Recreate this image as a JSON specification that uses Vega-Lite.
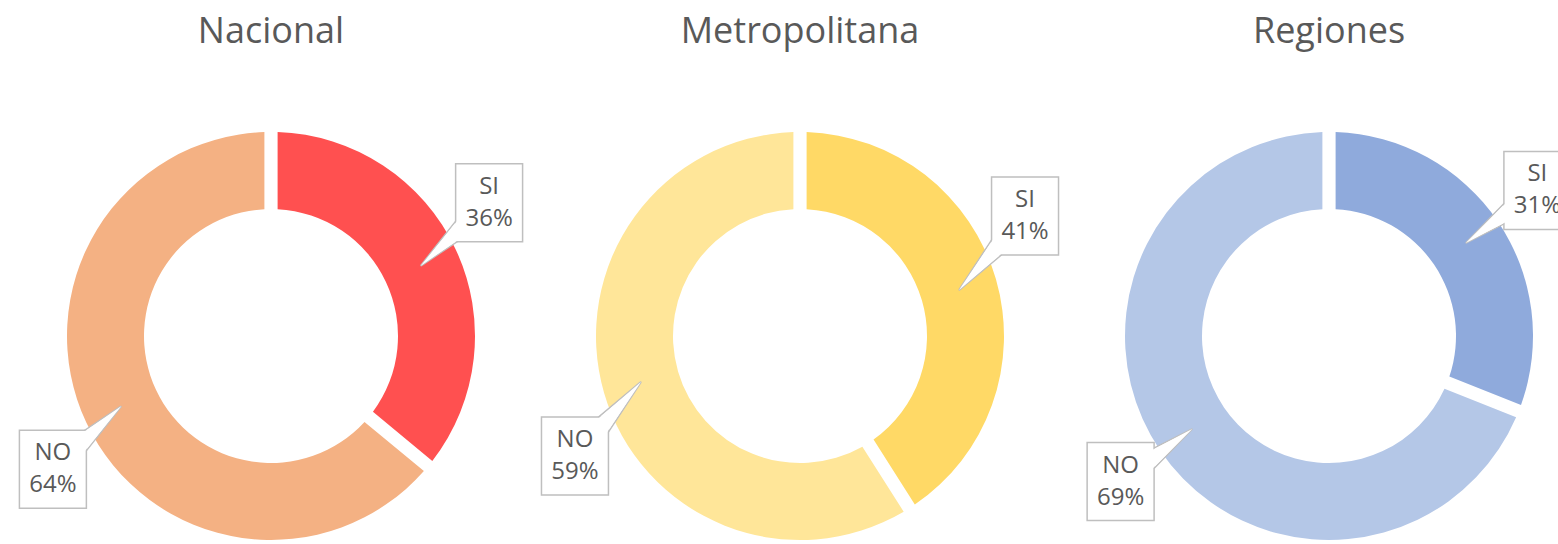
{
  "$schema": "https://vega.github.io/schema/vega-lite/v6.json",
  "width": 1558,
  "height": 544,
  "padding": 0,
  "autosize": {"type": "none"},
  "background": "white",
  "config": {"view": {"stroke": null}},
  "data": {
    "values": [
      {"region": "Nacional", "category": "SI", "value": 36},
      {"region": "Nacional", "category": "NO", "value": 64},
      {"region": "Metropolitana", "category": "SI", "value": 41},
      {"region": "Metropolitana", "category": "NO", "value": 59},
      {"region": "Regiones", "category": "SI", "value": 31},
      {"region": "Regiones", "category": "NO", "value": 69}
    ]
  },
  "transform": [
    {"stack": "value", "groupby": ["region"], "sort": [{"field": "category", "order": "descending"}], "as": ["v0", "v1"]},
    {"calculate": "indexof(['Nacional','Metropolitana','Regiones'], datum.region)", "as": "cx"},
    {"calculate": "0", "as": "cy"},
    {"calculate": "datum.region + ' ' + datum.category", "as": "key"},
    {"calculate": "PI * (datum.v0 + datum.v1) / 100", "as": "ang"},
    {"calculate": "sin(datum.ang)", "as": "s"},
    {"calculate": "cos(datum.ang)", "as": "c"},
    {"calculate": "datum.cx + 0.3138 * datum.s", "as": "tx"},
    {"calculate": "0.3138 * datum.c", "as": "ty"},
    {"calculate": "datum.cx + (datum.s > 0 ? 1 : -1) * (105 + 125 * abs(datum.s)) / 529", "as": "bx"},
    {"calculate": "(datum.c > 0 ? 1 : -1) * (95 + 90 * abs(datum.c)) / 529", "as": "by"},
    {"calculate": "datum.bx - 0.0633", "as": "bx0"},
    {"calculate": "datum.bx + 0.0633", "as": "bx1"},
    {"calculate": "datum.by - 0.0737", "as": "by0"},
    {"calculate": "datum.by + 0.0737", "as": "by1"},
    {"calculate": "[datum.category, datum.value + '%']", "as": "label"}
  ],
  "layer": [
    {
      "mark": {"type": "arc", "outerRadius": 204, "innerRadius": 127, "padAngle": 0.055},
      "encoding": {
        "x": {"field": "cx", "type": "quantitative", "stack": null, "scale": {"domain": [-0.51229, 2.43289], "nice": false, "zero": false}, "axis": null},
        "y": {"field": "cy", "type": "quantitative", "stack": null, "scale": {"domain": [-0.39319, 0.63516], "nice": false, "zero": false}, "axis": null},
        "theta": {"field": "v0", "type": "quantitative", "scale": {"domain": [0, 100]}},
        "theta2": {"field": "v1"},
        "color": {
          "field": "key",
          "type": "nominal",
          "legend": null,
          "scale": {
            "domain": ["Nacional SI", "Nacional NO", "Metropolitana SI", "Metropolitana NO", "Regiones SI", "Regiones NO"],
            "range": ["#FF5050", "#F4B183", "#FFD966", "#FFE699", "#8FAADC", "#B4C7E7"]
          }
        }
      }
    },
    {
      "transform": [
        {"fold": ["bx", "tx"], "as": ["pt", "px"]},
        {"calculate": "datum.pt == 'bx' ? datum.by : datum.ty", "as": "py"},
        {"calculate": "datum.pt == 'bx' ? 30 : 0.5", "as": "w"}
      ],
      "mark": {"type": "trail", "stroke": "#bfbfbf", "strokeWidth": 1.5},
      "encoding": {
        "x": {"field": "px", "type": "quantitative", "scale": {"domain": [-0.51229, 2.43289], "nice": false, "zero": false}, "axis": null},
        "y": {"field": "py", "type": "quantitative", "scale": {"domain": [-0.39319, 0.63516], "nice": false, "zero": false}, "axis": null},
        "detail": {"field": "key", "type": "nominal"},
        "size": {"field": "w", "type": "quantitative", "scale": null},
        "color": {"value": "white"}
      }
    },
    {
      "mark": {"type": "rect", "fill": "white", "stroke": "#bfbfbf", "strokeWidth": 1.5},
      "encoding": {
        "x": {"field": "bx0", "type": "quantitative", "scale": {"domain": [-0.51229, 2.43289], "nice": false, "zero": false}, "axis": null},
        "x2": {"field": "bx1"},
        "y": {"field": "by0", "type": "quantitative", "scale": {"domain": [-0.39319, 0.63516], "nice": false, "zero": false}, "axis": null},
        "y2": {"field": "by1"}
      }
    },
    {
      "transform": [
        {"fold": ["bx", "tx"], "as": ["pt", "px"]},
        {"calculate": "datum.pt == 'bx' ? datum.by : datum.ty", "as": "py"},
        {"calculate": "datum.pt == 'bx' ? 27 : 0.2", "as": "w"}
      ],
      "mark": {"type": "trail"},
      "encoding": {
        "x": {"field": "px", "type": "quantitative", "scale": {"domain": [-0.51229, 2.43289], "nice": false, "zero": false}, "axis": null},
        "y": {"field": "py", "type": "quantitative", "scale": {"domain": [-0.39319, 0.63516], "nice": false, "zero": false}, "axis": null},
        "detail": {"field": "key", "type": "nominal"},
        "size": {"field": "w", "type": "quantitative", "scale": null},
        "color": {"value": "white"}
      }
    },
    {
      "mark": {"type": "text", "font": "Open Sans", "fontSize": 24, "color": "#595959", "lineHeight": 32, "baseline": "middle", "align": "center", "dy": -16},
      "encoding": {
        "x": {"field": "bx", "type": "quantitative", "scale": {"domain": [-0.51229, 2.43289], "nice": false, "zero": false}, "axis": null},
        "y": {"field": "by", "type": "quantitative", "scale": {"domain": [-0.39319, 0.63516], "nice": false, "zero": false}, "axis": null},
        "text": {"field": "label"}
      }
    },
    {
      "transform": [{"filter": "datum.category == 'SI'"}],
      "mark": {"type": "text", "font": "Open Sans", "fontSize": 36, "color": "#595959", "baseline": "alphabetic", "align": "center", "dy": 43},
      "encoding": {
        "x": {"field": "cx", "type": "quantitative", "scale": {"domain": [-0.51229, 2.43289], "nice": false, "zero": false}, "axis": null},
        "y": {"value": 0},
        "text": {"field": "region"}
      }
    }
  ]
}
